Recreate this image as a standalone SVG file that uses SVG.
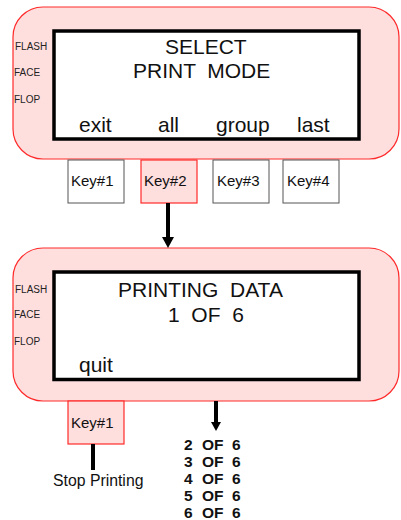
<svg xmlns="http://www.w3.org/2000/svg" width="401" height="520" viewBox="0 0 401 520">
<style>
.panel{fill:#ffdede;stroke:#ff2a2a;stroke-width:1.2}
.screen{fill:#fff;stroke:#000;stroke-width:3.5}
.key{fill:#fff;stroke:#555;stroke-width:1}
.keyon{fill:#ffdede;stroke:#ff2a2a;stroke-width:1.2}
.t{font-family:"Liberation Sans",Arial,sans-serif;fill:#111;white-space:pre}
.big{font-size:21px}
.side{font-size:10px;fill:#222}
.k{font-size:15px}
.b{font-size:15.5px;font-weight:bold}
.wire{stroke:#000;stroke-width:4;fill:none}
</style>
<g id="panel1">
<rect class="panel" x="13" y="7" width="386" height="152" rx="30" ry="30"/>
<rect class="screen" x="54" y="31" width="305" height="108"/>
<text class="t side" x="15" y="50">FLASH</text>
<text class="t side" x="14" y="76">FACE</text>
<text class="t side" x="14" y="103">FLOP</text>
<text class="t big" x="165" y="54">SELECT</text>
<text class="t big" x="133" y="78" xml:space="preserve">PRINT  MODE</text>
<text class="t big" x="79" y="132">exit</text>
<text class="t big" x="158" y="132">all</text>
<text class="t big" x="216" y="132">group</text>
<text class="t big" x="297" y="132">last</text>
</g>
<g id="key1">
<rect class="key" x="68" y="160" width="56" height="43"/>
<text class="t k" x="71" y="186">Key#1</text>
</g>
<g id="key2">
<rect class="keyon" x="141" y="160" width="56" height="43"/>
<text class="t k" x="144" y="186">Key#2</text>
</g>
<g id="key3">
<rect class="key" x="213" y="160" width="56" height="43"/>
<text class="t k" x="217" y="186">Key#3</text>
</g>
<g id="key4">
<rect class="key" x="283" y="160" width="56" height="43"/>
<text class="t k" x="287" y="186">Key#4</text>
</g>
<g id="panel2">
<rect class="panel" x="13" y="248" width="386" height="153" rx="30" ry="30"/>
<rect class="screen" x="54" y="272" width="305" height="107.5"/>
<text class="t side" x="15" y="293">FLASH</text>
<text class="t side" x="14" y="318">FACE</text>
<text class="t side" x="14" y="345">FLOP</text>
<text class="t big" x="118" y="297" xml:space="preserve">PRINTING  DATA</text>
<text class="t big" x="168" y="322" xml:space="preserve">1  OF  6</text>
<text class="t big" x="79" y="372">quit</text>
</g>
<g id="key1b">
<rect class="keyon" x="68" y="401" width="56" height="43"/>
<text class="t k" x="71" y="428">Key#1</text>
</g>
<g id="stop">
<text class="t k" x="53" y="486" style="font-size:15.8px">Stop Printing</text>
</g>
<g id="pages">
<text class="t b" x="184" y="450">2<tspan x="202">OF</tspan><tspan x="232">6</tspan></text>
<text class="t b" x="184" y="467">3<tspan x="202">OF</tspan><tspan x="232">6</tspan></text>
<text class="t b" x="184" y="484">4<tspan x="202">OF</tspan><tspan x="232">6</tspan></text>
<text class="t b" x="184" y="501">5<tspan x="202">OF</tspan><tspan x="232">6</tspan></text>
<text class="t b" x="184" y="518">6<tspan x="202">OF</tspan><tspan x="232">6</tspan></text>
</g>
<g id="connectors">
<line class="wire" x1="168" y1="203" x2="168" y2="237"/>
<path d="M162,237 L174,237 L168,248 z" fill="#000"/>
<line class="wire" x1="216" y1="401" x2="216" y2="422"/>
<path d="M211,422 L221,422 L216,431 z" fill="#000"/>
<line class="wire" x1="93" y1="444" x2="93" y2="470"/>
</g>
</svg>
